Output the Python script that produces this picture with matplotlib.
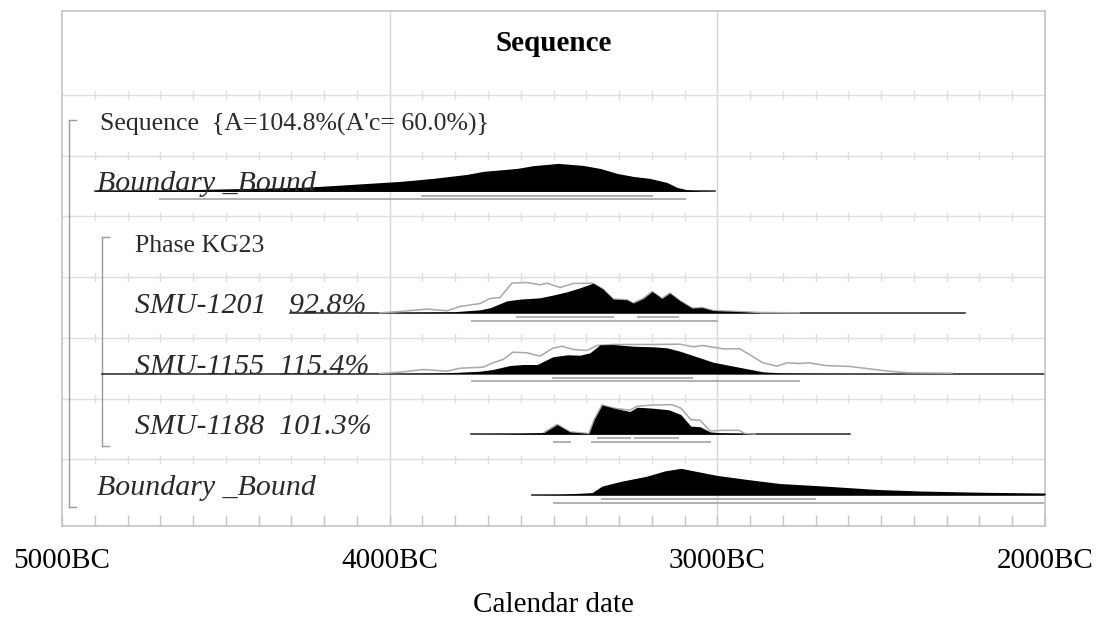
import matplotlib
matplotlib.use("Agg")
import matplotlib.pyplot as plt
import matplotlib.transforms as mtransforms
import numpy as np

plt.rcParams['font.family'] = ['Liberation Serif', 'DejaVu Serif']

# ---- data (years BC, relative probability) ----
title = "Sequence"
row_labels = ["Sequence  {A=104.8%(A'c= 60.0%)}", "Boundary _Bound", "Phase KG23",
              "SMU-1201   92.8%", "SMU-1155  115.4%", "SMU-1188  101.3%", "Boundary _Bound"]
row_italic = [False, True, False, True, True, True, True]
row_indent = [0, 0, 1, 1, 1, 1, 0]

# Boundary (start)
b1_year = [4899, 4731, 4579, 4426, 4274, 4213, 3968, 3868, 3764, 3715, 3611, 3563, 3486,
           3410, 3358, 3306, 3257, 3206, 3154, 3123, 3093, 3053, 3007]
b1_post = [0.5, 1, 2, 3, 4, 5, 10, 13, 17, 20, 23, 25.7, 28, 26, 23, 18, 15, 13, 9, 4,
           1.7, 0.5, 0]
b1_line = [4899, 3007]
b1_r68 = [[3901, 3199]]
b1_r95 = [[4701, 3099]]

# SMU-1201
s1201_year = [3978, 3807, 3724, 3694, 3642, 3602, 3541, 3502, 3459, 3419, 3379, 3349, 3318,
              3276, 3257, 3226, 3199, 3169, 3145, 3114, 3077, 3047, 3013, 2940, 2870]
s1201_post = [0.3, 1, 3, 5, 12, 13.7, 15, 17.7, 21, 25, 29.7, 23.7, 13.7, 13, 9.7, 14.3,
              21.3, 14.3, 19.7, 12, 4.7, 5.3, 2.3, 1.3, 0]
s1201_lk_year = [4030, 3968, 3886, 3825, 3785, 3724, 3694, 3663, 3627, 3581, 3541, 3520, 3480,
                 3440, 3382, 3349, 3318, 3276, 3257, 3226, 3199, 3169, 3145, 3114, 3077,
                 3047, 3013, 2940, 2870, 2750]
s1201_lk = [0, 1.3, 3.7, 2, 6.3, 9.3, 14.3, 15.3, 29.7, 30.3, 28, 29.7, 25.3, 29.3, 29.7,
            23.7, 13.7, 13, 9.7, 14.3, 21.3, 14.3, 19.7, 12, 4.7, 5.3, 2.3, 1.3, 0.3, 0]
s1201_line = [4304, 2244]
s1201_r68 = [[3611, 3318], [3242, 3120]]
s1201_r95 = [[3749, 3001]]

# SMU-1155
s1155_year = [3980, 3825, 3724, 3685, 3633, 3593, 3550, 3502, 3459, 3419, 3389, 3358, 3318,
              3257, 3196, 3154, 3114, 3062, 3013, 2961, 2909, 2861, 2809, 2748, 2600]
s1155_post = [0, 0.7, 2.3, 4, 8, 9, 9, 16.7, 18.7, 18.3, 20.7, 28.7, 29, 27.3, 26.7, 25.7,
              22.3, 16.7, 11.3, 8, 4.7, 1.7, 0.7, 0.3, 0]
s1155_lk_year = [4030, 3968, 3898, 3825, 3785, 3715, 3685, 3654, 3624, 3581, 3541, 3502,
                 3474, 3440, 3398, 3367, 3318, 3215, 3114, 3074, 3044, 2983, 2931, 2891,
                 2861, 2818, 2787, 2748, 2720, 2671, 2595, 2537, 2476, 2418, 2284]
s1155_lk = [0, 1.3, 4, 2.3, 5.3, 6.3, 10.7, 14, 21.3, 20.7, 17.3, 25.3, 27.3, 24, 23, 28,
            29, 29, 29.3, 26.7, 28, 24.7, 24.7, 16.7, 10.7, 7.3, 10.7, 10, 10.7, 8, 7, 4.7,
            2.3, 0.7, 0.3]
s1155_line = [4879, 2000]
s1155_r68 = [[3502, 3077]]
s1155_r95 = [[3749, 2751]]

# SMU-1188
s1188_year = [3752, 3645, 3529, 3489, 3450, 3392, 3376, 3352, 3315, 3267, 3245, 3196, 3148,
              3111, 3081, 3053, 3022, 2983, 2925, 2885]
s1188_post = [0, 0.3, 1.6, 9.7, 2.3, 0.6, 14.6, 29.2, 26, 22.7, 27, 26, 24.4, 19.5, 8.1,
              7.5, 2.3, 1.3, 0.6, 0]
s1188_lk_year = [3529, 3489, 3450, 3392, 3376, 3352, 3315, 3267, 3245, 3196, 3139, 3111,
                 3081, 3053, 3022, 2983, 2934, 2916, 2885]
s1188_lk = [1.6, 9.7, 2.3, 0.6, 14.6, 29.2, 26, 24, 28, 29.2, 29.5, 26, 14.6, 14, 3.2, 3.9,
            3.9, 0.6, 0]
s1188_line = [3752, 2595]
s1188_r68 = [[3364, 3267], [3251, 3120]]
s1188_r95 = [[3499, 3450], [3382, 3022]]

# Boundary (end)
b2_year = [3566, 3480, 3382, 3352, 3294, 3218, 3160, 3111, 3062, 3001, 2906, 2809, 2671,
           2516, 2381, 2186, 2000]
b2_post = [0, 0.6, 2.3, 8.8, 13.6, 18.5, 24, 26.6, 23.4, 19.5, 15.3, 11.4, 8.8, 5.5, 3.9,
           2.6, 1.9]
b2_line = [3566, 2000]
b2_r68 = [[3352, 2702]]
b2_r95 = [[3499, 2000]]

dists = {
    1: (b1_year, b1_post, None, None, b1_line, b1_r68, b1_r95),
    3: (s1201_year, s1201_post, s1201_lk_year, s1201_lk, s1201_line, s1201_r68, s1201_r95),
    4: (s1155_year, s1155_post, s1155_lk_year, s1155_lk, s1155_line, s1155_r68, s1155_r95),
    5: (s1188_year, s1188_post, s1188_lk_year, s1188_lk, s1188_line, s1188_r68, s1188_r95),
    6: (b2_year, b2_post, None, None, b2_line, b2_r68, b2_r95),
}

xticks = [5000, 4000, 3000, 2000]
minor = list(range(4900, 2000, -100))

# ---- layout ----
ROW_PX = 60.7
HEAD = 84 / ROW_PX          # header height in row units
TOTAL = 515 / ROW_PX
BASE = 35.7 / ROW_PX         # baseline offset inside row
SCALE = 1 / ROW_PX           # probability units -> row units

fig = plt.figure(figsize=(10.99, 6.24), dpi=100)
ax = fig.add_axes([62 / 1099, 98 / 624, 983 / 1099, 515 / 624])
ax.set_xlim(-5000, -2000)
ax.set_ylim(TOTAL, 0)

grid_c = '#dedede'
for s in ax.spines.values():
    s.set_color('#c4c4c4')
    s.set_linewidth(1.2)

# vertical grid at the millennia
for yr in [4000, 3000]:
    ax.axvline(-yr, color='#d6d6d6', lw=1, zorder=0)

# row lines with small ticks
row_tops = [HEAD + i for i in range(7)]
for yl in row_tops:
    ax.axhline(yl, color=grid_c, lw=1, zorder=0)
    for yr in minor:
        ax.plot([-yr, -yr], [yl - 0.06, yl + 0.06], color=grid_c, lw=1, zorder=0)

tr = mtransforms.blended_transform_factory(ax.transAxes, ax.transData)
ax.text(0.5, 0.39 * HEAD, title, transform=tr, ha='center', va='center',
        fontsize=21, fontweight='bold')

for i, lab in enumerate(row_labels):
    xf = 0.0387 if row_indent[i] == 0 else 0.0743
    ital = row_italic[i]
    ax.text(xf - (0.003 if ital and row_indent[i] == 0 else 0), row_tops[i] + BASE, lab,
            transform=tr, ha='left', va='baseline',
            fontsize=21.5 if ital else 18.5, style='italic' if ital else 'normal',
            color='#2a2a2a', zorder=5)

# brackets
br = '#9a9a9a'
def bracket(xf, y0, y1):
    ax.plot([xf, xf], [y0, y1], color=br, lw=1, transform=tr)
    ax.plot([xf, xf + 0.007], [y0, y0], color=br, lw=1, transform=tr)
    ax.plot([xf, xf + 0.007], [y1, y1], color=br, lw=1, transform=tr)

bracket(7 / 983, row_tops[0] + 0.41, row_tops[6] + 0.78)
bracket(39.7 / 983, row_tops[2] + 0.34, row_tops[5] + 0.785)

# distributions
for i, (yr, post, lyr, lk, line, r68, r95) in dists.items():
    base = row_tops[i] + BASE
    ax.plot([-line[0], -line[1]], [base, base], color='#333333', lw=1.2, zorder=2)
    if lyr is not None:
        ax.plot(-np.array(lyr), base - np.array(lk) * SCALE, color='#a8a8a8', lw=1.1, zorder=2)
    ax.fill_between(-np.array(yr), base, base - np.array(post) * SCALE, color='black',
                    lw=0, zorder=3)
    for a, b in r68:
        ax.plot([-a, -b], [base + 0.07, base + 0.07], color='#b0b0b0', lw=1.4, zorder=2)
    for a, b in r95:
        ax.plot([-a, -b], [base + 0.13, base + 0.13], color='#b0b0b0', lw=1.4, zorder=2)

# axis
ax.set_yticks([])
ax.set_xticks([-t for t in xticks])
ax.set_xticklabels([f"{t}BC" for t in xticks], fontsize=21)
ax.set_xticks([-t for t in minor], minor=True)
ax.tick_params(axis='x', which='both', direction='in', length=8, color='#c4c4c4', width=1)
ax.tick_params(axis='x', which='major', pad=16)
ax.set_xlabel("Calendar date", fontsize=21, labelpad=13)

fig.savefig("out.png", dpi=100)
